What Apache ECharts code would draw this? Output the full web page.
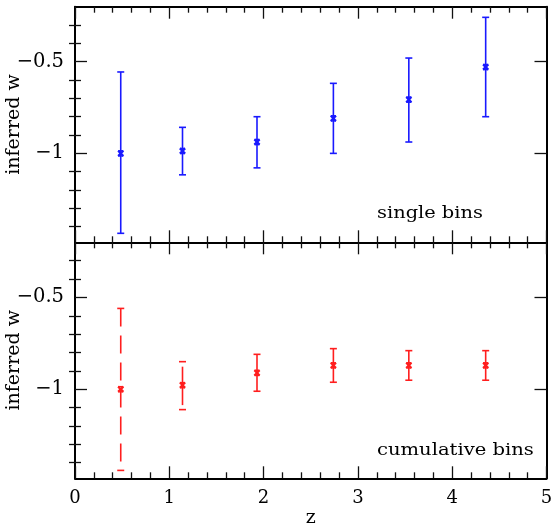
<!DOCTYPE html>
<html><head><meta charset="utf-8">
<script src="https://cdn.jsdelivr.net/npm/echarts@6/dist/echarts.min.js"></script>
<style>html,body{margin:0;padding:0;background:#fff}#c{width:551px;height:523px}</style>
</head><body><div id="c"></div>
<script>
// ---- data ----
var zValues   = [0.485, 1.14, 1.93, 2.74, 3.54, 4.355];
var singleW   = [-1.0, -0.987, -0.938, -0.809, -0.707, -0.529];
var singleLo  = [-1.436, -1.117, -1.079, -1.0, -0.938, -0.80];
var singleHi  = [-0.556, -0.858, -0.80, -0.618, -0.48, -0.258];
var cumW      = [-1.0, -0.978, -0.911, -0.870, -0.870, -0.870];
var cumLo     = [-1.442, -1.111, -1.011, -0.962, -0.951, -0.951];
var cumHi     = [-0.56, -0.85, -0.81, -0.779, -0.79, -0.79];
var singleBarStyle = ['solid','solid','solid','solid','solid','solid'];
var cumBarStyle    = ['dashed','gapped','solid','solid','solid','solid'];
var yMajorTicks = [-1, -0.5];
var yMinorTicks = [-1.4, -1.3, -1.2, -1.1, -0.9, -0.8, -0.7, -0.6, -0.4, -0.3];
var yRange = [-1.485, -0.2];
var xRange = [0, 5];

// ---- chart ----
var FONT = 'DejaVu Serif';
var chart = echarts.init(document.getElementById('c'), null, {renderer: 'canvas'});

var frameLine = {show: true, onZero: false, lineStyle: {color: '#000', width: 2}};
var tickStyle = {color: '#111', width: 1.3};

function fmtNum(v) {
  return v < 0 ? '\u2212' + String(Math.abs(v)) : String(v);
}

function xAxes(gridIndex, pos, showLabels, name) {
  return {
    type: 'value', gridIndex: gridIndex, position: pos,
    min: xRange[0], max: xRange[1], interval: 1,
    axisLine: frameLine,
    axisTick: {show: true, inside: true, length: 12, lineStyle: tickStyle},
    minorTick: {show: true, splitNumber: 5, length: 6, lineStyle: tickStyle},
    axisLabel: {show: showLabels, color: '#000', fontFamily: FONT, fontSize: 18, margin: 11},
    splitLine: {show: false},
    name: name || '', nameLocation: 'middle', nameGap: 30, nameMoveOverlap: false,
    nameTextStyle: {color: '#000', fontFamily: FONT, fontSize: 19}
  };
}
function yAxisMajor(gridIndex, pos, showLabels, name) {
  return {
    type: 'value', gridIndex: gridIndex, position: pos,
    min: yRange[0], max: yRange[1],
    axisLine: frameLine,
    axisTick: {show: true, inside: true, length: 12, lineStyle: tickStyle, customValues: yMajorTicks},
    axisLabel: {show: showLabels, color: '#000', fontFamily: FONT, fontSize: 19.5, margin: 11,
                customValues: yMajorTicks, formatter: fmtNum},
    splitLine: {show: false},
    name: name || '', nameLocation: 'middle', nameGap: 51, nameMoveOverlap: false,
    nameTextStyle: {color: '#000', fontFamily: FONT, fontSize: 19}
  };
}
function yAxisMinor(gridIndex, pos) {
  return {
    type: 'value', gridIndex: gridIndex, position: pos,
    min: yRange[0], max: yRange[1],
    axisLine: {show: false},
    axisTick: {show: true, inside: true, length: 6, lineStyle: tickStyle, customValues: yMinorTicks},
    axisLabel: {show: false},
    splitLine: {show: false}
  };
}

function makeRender(color, styles) {
  return function (params, api) {
    var i = params.dataIndex;
    var pc = api.coord([api.value(0), api.value(1)]);
    var pl = api.coord([api.value(0), api.value(2)]);
    var ph = api.coord([api.value(0), api.value(3)]);
    var st = styles[i];
    var cw = 3.5, m = 2.6;
    var lineStyle = {stroke: color, lineWidth: 1.6, fill: null};
    var y1 = ph[1], y2 = pl[1];
    if (st === 'dashed') { lineStyle.lineDash = [18, 9]; }
    if (st === 'gapped') { y1 = ph[1] + 5; y2 = pl[1] - 4.5; }
    var children = [
      {type: 'line', shape: {x1: pc[0], y1: y1, x2: pc[0], y2: y2}, style: lineStyle},
      {type: 'line', shape: {x1: ph[0] - cw, y1: ph[1], x2: ph[0] + cw, y2: ph[1]}, style: {stroke: color, lineWidth: 1.6}},
      {type: 'line', shape: {x1: pl[0] - cw, y1: pl[1], x2: pl[0] + cw, y2: pl[1]}, style: {stroke: color, lineWidth: 1.6}},
      {type: 'line', shape: {x1: pc[0] - m, y1: pc[1] - m, x2: pc[0] + m, y2: pc[1] + m}, style: {stroke: color, lineWidth: 2.2}},
      {type: 'line', shape: {x1: pc[0] - m, y1: pc[1] + m, x2: pc[0] + m, y2: pc[1] - m}, style: {stroke: color, lineWidth: 2.2}},
      {type: 'line', shape: {x1: pc[0] - m, y1: pc[1] - m, x2: pc[0] + m, y2: pc[1] - m}, style: {stroke: color, lineWidth: 1.4}},
      {type: 'line', shape: {x1: pc[0] - m, y1: pc[1] + m, x2: pc[0] + m, y2: pc[1] + m}, style: {stroke: color, lineWidth: 1.4}}
    ];
    return {type: 'group', children: children};
  };
}

function build(w, lo, hi) {
  return zValues.map(function (z, i) { return [z, w[i], lo[i], hi[i]]; });
}

var option = {
  backgroundColor: '#fff',
  animation: false,
  textStyle: {fontFamily: FONT},
  grid: [
    {left: 75, right: 4.5, top: 6.7, height: 235.6, containLabel: false, outerBoundsMode: 'none'},
    {left: 75, right: 4.5, top: 242.3, height: 236, containLabel: false, outerBoundsMode: 'none'}
  ],
  xAxis: [
    xAxes(0, 'bottom', false),
    xAxes(0, 'top', false),
    xAxes(1, 'bottom', true, 'z'),
    xAxes(1, 'top', false)
  ],
  yAxis: [
    yAxisMajor(0, 'left', true, 'inferred w'),
    yAxisMinor(0, 'left'),
    yAxisMajor(0, 'right', false),
    yAxisMinor(0, 'right'),
    yAxisMajor(1, 'left', true, 'inferred w'),
    yAxisMinor(1, 'left'),
    yAxisMajor(1, 'right', false),
    yAxisMinor(1, 'right')
  ],
  graphic: [
    {type: 'text', x: 377, y: 214, scaleX: 1.14, z: 100,
     style: {text: 'single bins', font: '17px "DejaVu Serif"', fill: '#000', textAlign: 'left', textVerticalAlign: 'middle'}},
    {type: 'text', x: 377, y: 451, scaleX: 1.15, z: 100,
     style: {text: 'cumulative bins', font: '17px "DejaVu Serif"', fill: '#000', textAlign: 'left', textVerticalAlign: 'middle'}}
  ],
  series: [
    {type: 'custom', name: 'single bins', xAxisIndex: 0, yAxisIndex: 0,
     renderItem: makeRender('rgb(25,25,255)', singleBarStyle),
     encode: {x: 0, y: [1, 2, 3]}, data: build(singleW, singleLo, singleHi)},
    {type: 'custom', name: 'cumulative bins', xAxisIndex: 2, yAxisIndex: 4,
     renderItem: makeRender('rgb(255,30,30)', cumBarStyle),
     encode: {x: 0, y: [1, 2, 3]}, data: build(cumW, cumLo, cumHi)}
  ]
};
chart.setOption(option);
</script>
</body></html>
